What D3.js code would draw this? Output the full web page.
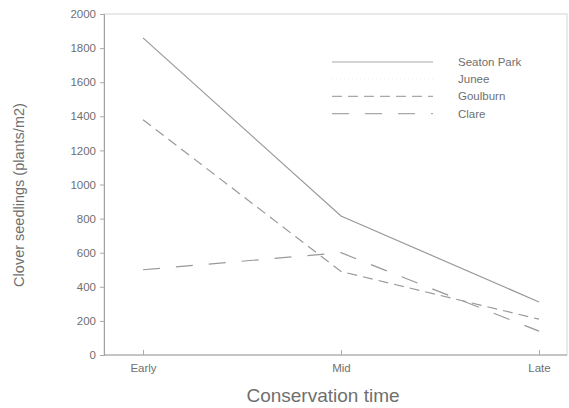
<!DOCTYPE html>
<html>
<head>
<meta charset="utf-8">
<script src="https://cdn.jsdelivr.net/npm/d3@7"></script>
<style>
  body { margin: 0; background: #fff; }
  text { font-family: "Liberation Sans", Arial, sans-serif; fill: #6f6f6f; }
</style>
</head>
<body>
<div class="chart"></div>
<script>
// data
const stages = ["Early", "Mid", "Late"];
const seatonPark = [1860, 815, 311];
const goulburn = [1380, 490, 210];
const clare = [500, 600, 140];
const yTicks = [0, 200, 400, 600, 800, 1000, 1200, 1400, 1600, 1800, 2000];
const legendNames = ["Seaton Park", "Junee", "Goulburn", "Clare"];

const series = [
    {name: "Seaton Park", values: seatonPark, dash: null},
    {name: "Goulburn", values: goulburn, dash: "10,6"},
    {name: "Clare", values: clare, dash: "17,16"}
];
const legendDash = {"Seaton Park": null, "Junee": "1,3", "Goulburn": "10,6", "Clare": "17,16"};

const width = 569, height = 408;
const plot = {left: 104, right: 567, top: 14, bottom: 355};

const svg = d3.select(".chart").append("svg")
    .attr("width", width)
    .attr("height", height);

const x = d3.scalePoint()
    .domain(stages)
    .range([143, 539]);

const y = d3.scaleLinear()
    .domain([0, 2000])
    .range([plot.bottom, plot.top]);

// frame
svg.append("rect")
    .attr("x", plot.left).attr("y", plot.top)
    .attr("width", plot.right - plot.left).attr("height", plot.bottom - plot.top)
    .attr("fill", "none")
    .attr("stroke", "#d4d4d4")
    .attr("stroke-width", 1);

// y axis
const yAxis = d3.axisLeft(y).tickValues(yTicks).tickSize(4).tickPadding(4).tickFormat(d3.format("d"));
const gy = svg.append("g")
    .attr("transform", "translate(" + plot.left + ",0)")
    .call(yAxis);
gy.select(".domain").attr("stroke", "#a0a0a0");
gy.selectAll(".tick line").attr("stroke", "#aaa");
gy.selectAll(".tick text").style("font-size", "11.5px").attr("fill", "#808080");

// x axis
const xAxis = d3.axisBottom(x).tickSize(-5).tickPadding(9);
const gx = svg.append("g")
    .attr("transform", "translate(0," + plot.bottom + ")")
    .call(xAxis);
gx.select(".domain").attr("d", "M" + plot.left + ",0H" + plot.right).attr("stroke", "#a0a0a0");
gx.selectAll(".tick line").attr("stroke", "#aaa");
gx.selectAll(".tick text").style("font-size", "11.5px").attr("fill", "#808080");

// axis titles
svg.append("text")
    .attr("x", 323)
    .attr("y", 402)
    .attr("text-anchor", "middle")
    .style("font-size", "19px")
    .attr("fill", "#666")
    .text("Conservation time");
svg.append("text")
    .attr("transform", "translate(24,195) rotate(-90)")
    .attr("text-anchor", "middle")
    .style("font-size", "14.5px")
    .attr("fill", "#777")
    .text("Clover seedlings (plants/m2)");

// lines
const line = d3.line()
    .x((d, i) => x(stages[i]))
    .y(d => y(d));

svg.selectAll(".series")
    .data(series)
    .enter().append("path")
    .attr("class", "series")
    .attr("d", d => line(d.values))
    .attr("fill", "none")
    .attr("stroke", "#999")
    .attr("stroke-width", 1.2)
    .attr("stroke-dasharray", d => d.dash);

// legend
const legend = svg.selectAll(".legend")
    .data(legendNames)
    .enter().append("g")
    .attr("class", "legend")
    .attr("transform", (d, i) => "translate(0," + (62 + i * 17.2) + ")");

legend.append("line")
    .attr("x1", 332).attr("x2", 433)
    .attr("y1", 0).attr("y2", 0)
    .attr("stroke", d => d == "Junee" ? "#f2f2f2" : "#a8a8a8")
    .attr("stroke-width", 1.2)
    .attr("stroke-dasharray", d => legendDash[d]);

legend.append("text")
    .attr("x", 458)
    .attr("y", 4)
    .style("font-size", "11.5px")
    .attr("fill", "#7a7a7a")
    .text(d => d);
</script>
</body>
</html>
